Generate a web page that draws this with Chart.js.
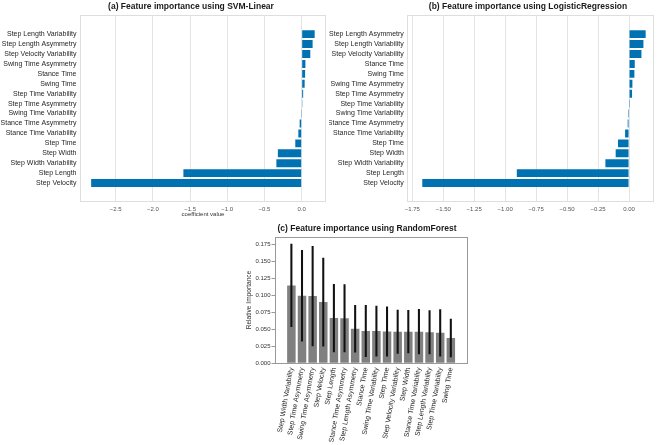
<!DOCTYPE html>
<html>
<head>
<meta charset="utf-8">
<script src="https://cdn.jsdelivr.net/npm/chart.js@4.4.0/dist/chart.umd.min.js"></script>
<style>
  body { margin: 0; background: #fff; }
  #wrap { position: relative; width: 658px; height: 445px; overflow: hidden; background: #fff; }
  canvas { position: absolute; }
</style>
</head>
<body>
<div id="wrap">
  <canvas id="svm" width="329" height="222" style="left:0;top:0"></canvas>
  <canvas id="logreg" width="329" height="222" style="left:329px;top:0"></canvas>
  <canvas id="forest" width="290" height="240" style="left:200px;top:205px"></canvas>
</div>
<script>
// features listed top to bottom as they appear in each panel
const svmFeatures = ['Step Length Variability', 'Step Length Asymmetry', 'Step Velocity Variability',
  'Swing Time Asymmetry', 'Stance Time', 'Swing Time', 'Step Time Variability', 'Step Time Asymmetry',
  'Swing Time Variability', 'Stance Time Asymmetry', 'Stance Time Variability', 'Step Time',
  'Step Width', 'Step Width Variability', 'Step Length', 'Step Velocity'];
const svmCoef = [0.175, 0.147, 0.116, 0.05, 0.046, 0.04, 0.02, 0.01,
  -0.003, -0.027, -0.045, -0.086, -0.32, -0.34, -1.59, -2.83];

const lrFeatures = ['Step Length Asymmetry', 'Step Length Variability', 'Step Velocity Variability',
  'Stance Time', 'Swing Time', 'Swing Time Asymmetry', 'Step Time Asymmetry', 'Step Time Variability',
  'Swing Time Variability', 'Stance Time Asymmetry', 'Stance Time Variability', 'Step Time',
  'Step Width', 'Step Width Variability', 'Step Length', 'Step Velocity'];
const lrCoef = [0.134, 0.116, 0.1, 0.046, 0.043, 0.027, 0.024, 0.001,
  -0.008, -0.011, -0.032, -0.089, -0.108, -0.191, -0.906, -1.669];

const rfFeatures = ['Step Width Variability', 'Step Time Asymmetry', 'Swing Time Asymmetry',
  'Step Velocity', 'Step Length', 'Stance Time Asymmetry', 'Step Length Asymmetry', 'Stance Time',
  'Swing Time Variability', 'Step Time', 'Step Velocity Variability', 'Step Width',
  'Stance Time Variability', 'Step Length Variability', 'Step Time Variability', 'Swing Time'];
const rfImportance = [0.115, 0.0998, 0.0993, 0.0904, 0.0668, 0.0664, 0.051, 0.0477,
  0.0477, 0.047, 0.0467, 0.0467, 0.0467, 0.046, 0.045, 0.0374];
const rfStd = [0.061, 0.067, 0.0735, 0.065, 0.05, 0.0497, 0.0345, 0.038,
  0.037, 0.0365, 0.032, 0.0315, 0.033, 0.032, 0.0345, 0.028];

const svmTicks = [-2.5, -2.0, -1.5, -1.0, -0.5, 0.0];
const lrTicks = [-1.75, -1.5, -1.25, -1.0, -0.75, -0.5, -0.25, 0.0];
const rfTicks = [0, 0.025, 0.05, 0.075, 0.1, 0.125, 0.15, 0.175];

const FONT = '"Liberation Sans", Arial, sans-serif';
Chart.defaults.font.family = FONT;
Chart.defaults.animation = false;

const minus = s => s.replace('-', '\u2212');

// frame round the plot area + panel title
const panel = {
  id: 'panel',
  afterDraw(chart, args, o) {
    const { ctx, chartArea: a } = chart;
    ctx.save();
    ctx.strokeStyle = o.frame;
    ctx.lineWidth = 1;
    ctx.strokeRect(Math.round(a.left) + 0.5, Math.round(a.top) + 0.5,
      Math.round(a.right - a.left) - 1, Math.round(a.bottom - a.top) - 1);
    ctx.font = 'bold 8.5px ' + FONT;
    ctx.fillStyle = '#1a1a1a';
    ctx.textAlign = 'center';
    ctx.textBaseline = 'middle';
    ctx.fillText(o.title, o.x, o.y);
    ctx.restore();
  }
};

function coefChart(id, features, coef, ticks, xmin, xmax, digits, title, titleX, yWidth, padRight, xTitle) {
  return new Chart(document.getElementById(id), {
    type: 'bar',
    data: {
      datasets: [{
        data: coef.map((v, i) => ({ x: v, y: i })),
        backgroundColor: '#0072B2',
        borderWidth: 0,
        barPercentage: 1,
        categoryPercentage: 0.8
      }]
    },
    options: {
      indexAxis: 'y',
      responsive: false,
      layout: { padding: { top: 15, right: padRight, left: 0, bottom: 0 } },
      plugins: {
        legend: { display: false },
        tooltip: { enabled: false },
        panel: { frame: '#dedede', title: title, x: titleX, y: 7 }
      },
      scales: {
        x: {
          type: 'linear', min: xmin, max: xmax,
          afterBuildTicks: s => { s.ticks = ticks.map(v => ({ value: v })); },
          afterFit: s => { s.height = 20.3; },
          ticks: { callback: v => minus(v.toFixed(digits)), font: { size: 6 }, color: '#555', padding: 4, maxRotation: 0 },
          grid: { color: '#e3e3e3', drawTicks: false },
          border: { display: false },
          title: { display: !!xTitle, text: xTitle, font: { size: 6 }, color: '#333', padding: { top: 0, bottom: 4.4 } }
        },
        y: {
          type: 'linear', reverse: true, min: -1.34, max: 16.29,
          afterBuildTicks: s => { s.ticks = features.map((f, i) => ({ value: i })); },
          afterFit: s => { s.width = yWidth; },
          ticks: { callback: v => features[v], font: { size: 7 }, color: '#262626', padding: 3.5, autoSkip: false },
          grid: { display: false, drawTicks: false },
          border: { display: false }
        }
      }
    },
    plugins: [panel]
  });
}

coefChart('svm', svmFeatures, svmCoef, svmTicks, -2.98, 0.327, 1,
  '(a) Feature importance using SVM-Linear', 191, 80, 3, 'coefficient value');
coefChart('logreg', lrFeatures, lrCoef, lrTicks, -1.79, 0.207, 2,
  '(b) Feature importance using LogisticRegression', 199, 78.3, 3.3, '');

new Chart(document.getElementById('forest'), {
  type: 'bar',
  data: {
    datasets: [
      {
        data: rfImportance.map((v, i) => ({ x: i, y: [v - rfStd[i], v + rfStd[i]] })),
        backgroundColor: '#111',
        barThickness: 1.4,
        grouped: false,
        order: 0
      },
      {
        data: rfImportance.map((v, i) => ({ x: i, y: v })),
        backgroundColor: '#808080',
        borderWidth: 0,
        barPercentage: 1,
        categoryPercentage: 0.8,
        grouped: false,
        order: 1
      }
    ]
  },
  options: {
    responsive: false,
    layout: { padding: { top: 31.7, right: 22.3, left: 40, bottom: 0 } },
    plugins: {
      legend: { display: false },
      tooltip: { enabled: false },
      panel: { frame: '#999', title: '(c) Feature importance using RandomForest', x: 167, y: 23.3 }
    },
    scales: {
      x: {
        type: 'linear', min: -1.02, max: 16.02,
        afterBuildTicks: s => { s.ticks = rfFeatures.map((f, i) => ({ value: i })); },
        afterFit: s => { s.height = 81.7; },
        ticks: { callback: v => rfFeatures[v], font: { size: 7 }, color: '#262626', padding: 3.5,
          minRotation: 80, maxRotation: 80, autoSkip: false },
        grid: { display: false, drawTicks: false },
        border: { display: false }
      },
      y: {
        type: 'linear', min: 0, max: 0.187,
        afterBuildTicks: s => { s.ticks = rfTicks.map(v => ({ value: v })); },
        afterFit: s => { s.width = 34.5; },
        ticks: { callback: v => v.toFixed(3), font: { size: 6 }, color: '#333', padding: 1 },
        grid: { drawOnChartArea: false, drawTicks: true, tickLength: 3, color: '#999' },
        border: { display: false },
        title: { display: true, text: 'Relative Importance', font: { size: 6.6 }, color: '#333', padding: { top: 5.5, bottom: 0 } }
      }
    }
  },
  plugins: [panel]
});
</script>
</body>
</html>
